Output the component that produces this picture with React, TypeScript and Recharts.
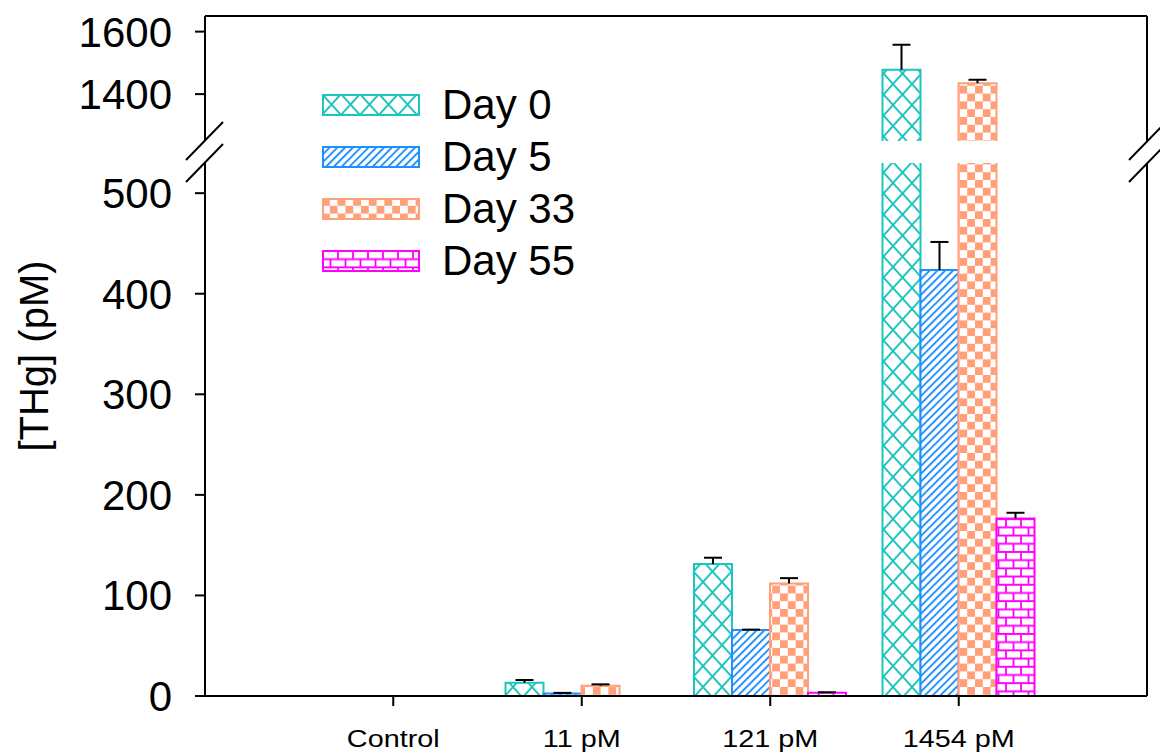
import React from 'react';
import { BarChart, Bar, XAxis, YAxis, ErrorBar, Legend, Label } from 'recharts';

// ---------- data ----------
const categories = ['Control', '11 pM', '121 pM', '1454 pM'];
const seriesNames = ['Day 0', 'Day 5', 'Day 33', 'Day 55'];
const day0 = [null, 13.2, 131.2, 1478];
const day0Err = [null, 2.7, 6.3, 80];
const day5 = [null, 2.5, 65.6, 423.5];
const day5Err = [null, 0.6, 0.4, 28];
const day33 = [null, 10.2, 111.8, 1435];
const day33Err = [null, 1.4, 5.4, 11];
const day55 = [null, null, 3.3, 176.6];
const day55Err = [null, null, 0.4, 5.6];

const lowerTicks = [0, 100, 200, 300, 400, 500];
const upperTicks = [1400, 1600];
const LOWER_DOMAIN: [number, number] = [0, 530];
const UPPER_DOMAIN: [number, number] = [1250, 1650];

// ---------- layout / style ----------
const FONT = '"Liberation Sans", Arial, sans-serif';
const W = 1160;
const H = 755;
const FRAME_LEFT = 205;
const FRAME_RIGHT = 1147;
const FRAME_TOP = 16;
const BREAK_TOP = 141; // bottom of upper panel
const BREAK_BOTTOM = 163; // top of lower panel
const FRAME_BOTTOM = 696;

const series = [
  { key: 'd0', errKey: 'e0', name: seriesNames[0], values: day0, errors: day0Err, color: '#1DC5BF', pattern: 'pat-cross' },
  { key: 'd5', errKey: 'e5', name: seriesNames[1], values: day5, errors: day5Err, color: '#1E8FFF', pattern: 'pat-diag' },
  { key: 'd33', errKey: 'e33', name: seriesNames[2], values: day33, errors: day33Err, color: '#FFA07A', pattern: 'pat-check' },
  { key: 'd55', errKey: 'e55', name: seriesNames[3], values: day55, errors: day55Err, color: '#FF00FF', pattern: 'pat-brick' },
];

function buildRows(part: 'upper' | 'lower') {
  return categories.map((cat, i) => {
    const row: any = { cat };
    series.forEach((s) => {
      const v = s.values[i];
      const e = s.errors[i];
      if (v == null) {
        row[s.key] = null;
        row[s.errKey] = null;
        return;
      }
      if (part === 'upper') {
        const show = v >= UPPER_DOMAIN[0];
        row[s.key] = show ? v : null;
        row[s.errKey] = show && e != null ? [0, e] : null;
      } else {
        row[s.key] = v;
        row[s.errKey] = e != null && v + e <= LOWER_DOMAIN[1] ? [0, e] : null;
      }
    });
    return row;
  });
}

const upperRows = buildRows('upper');
const lowerRows = buildRows('lower');

const axisStyle = { stroke: '#000', strokeWidth: 2 };
const tickStyle = { fontSize: 42, fill: '#000', fontFamily: FONT };

const Patterns = () => (
  <svg width={0} height={0} style={{ position: 'absolute', left: 0, top: 0 }}>
    <defs>
      <pattern id="pat-cross" patternUnits="userSpaceOnUse" width={19} height={21}>
        <rect width={19} height={21} fill="#fff" />
        <path d="M0,0 L19,21 M19,0 L0,21" stroke="#1DC5BF" strokeWidth={1.9} fill="none" />
      </pattern>
      <pattern id="pat-diag" patternUnits="userSpaceOnUse" width={5.5} height={10} patternTransform="rotate(45)">
        <rect width={5.5} height={10} fill="#fff" />
        <line x1={1} y1={0} x2={1} y2={10} stroke="#1E8FFF" strokeWidth={1.9} />
      </pattern>
      <pattern id="pat-check" patternUnits="userSpaceOnUse" width={15.6} height={15.6}>
        <rect width={15.6} height={15.6} fill="#fff" />
        <rect width={7.8} height={7.8} fill="#FFA07A" />
        <rect x={7.8} y={7.8} width={7.8} height={7.8} fill="#FFA07A" />
      </pattern>
      <pattern id="pat-brick" patternUnits="userSpaceOnUse" width={15} height={16.4}>
        <rect width={15} height={16.4} fill="#fff" />
        <path d="M0,1 H15 M0,9.2 H15 M1,1 V9.2 M8.5,9.2 V16.4" stroke="#FF00FF" strokeWidth={1.8} fill="none" />
      </pattern>
    </defs>
  </svg>
);

const renderLegend = () => (
  <div style={{ fontFamily: FONT, fontSize: 42, color: '#000' }}>
    {series.map((s) => (
      <div key={s.key} style={{ display: 'flex', alignItems: 'center', height: 51.7 }}>
        <svg width={98} height={22} style={{ display: 'block' }}>
          <rect x={1} y={1} width={96} height={20} fill={`url(#${s.pattern})`} stroke={s.color} strokeWidth={2} />
        </svg>
        <span style={{ marginLeft: 22, lineHeight: 1, whiteSpace: 'nowrap' }}>{s.name}</span>
      </div>
    ))}
  </div>
);

const XTick = (props: any) => {
  const { x, y, payload } = props;
  return (
    <g transform={`translate(${x},${y})`}>
      <text x={0} y={41} textAnchor="middle" transform="scale(1.2,1)" fontSize={24} fontFamily={FONT} fill="#000">
        {payload.value}
      </text>
    </g>
  );
};

const YLabel = () => (
  <text
    x={0}
    y={0}
    transform={`translate(48, ${(FRAME_TOP + FRAME_BOTTOM) / 2 - BREAK_TOP}) rotate(-90)`}
    textAnchor="middle"
    fontSize={40}
    fontFamily={FONT}
    fill="#000"
  >
    [THg] (pM)
  </text>
);

// bar outline drawn on the left, top and right edges only (the base sits on the axis / the break)
const OpenBar = (props: any) => {
  const { x, y, width, height, color, pattern } = props;
  if (!(width > 0) || !(height > 0)) return null;
  return (
    <g>
      <rect x={x} y={y} width={width} height={height} fill={`url(#${pattern})`} />
      <path
        d={`M${x},${y + height} V${y} H${x + width} V${y + height}`}
        stroke={color}
        strokeWidth={2}
        fill="none"
      />
    </g>
  );
};

const renderBars = () =>
  series.map((s) => (
    <Bar
      key={s.key}
      dataKey={s.key}
      name={s.name}
      fill={`url(#${s.pattern})`}
      stroke={s.color}
      isAnimationActive={false}
      shape={(p: any) => <OpenBar {...p} color={s.color} pattern={s.pattern} />}
    >
      <ErrorBar dataKey={s.errKey} width={9} stroke="#000" strokeWidth={2} direction="y" />
    </Bar>
  ));

const BreakMarks = () => {
  const marks: React.ReactNode[] = [];
  [FRAME_LEFT, FRAME_RIGHT + 1].forEach((x) => {
    [BREAK_TOP, BREAK_BOTTOM].forEach((y) => {
      marks.push(
        <line key={`${x}-${y}`} x1={x - 19} y1={y + 19} x2={x + 18} y2={y - 19} stroke="#000" strokeWidth={2} />
      );
    });
  });
  return (
    <svg width={W} height={H} style={{ position: 'absolute', left: 0, top: 0, pointerEvents: 'none' }}>
      {marks}
    </svg>
  );
};

export default function App() {
  return (
    <div style={{ position: 'absolute', left: 0, top: 0, width: W, height: H, background: '#fff', fontFamily: FONT }}>
      <style>{'.recharts-errorBar line:nth-of-type(3){display:none;}'}</style>
      <Patterns />
      <div style={{ position: 'absolute', left: 0, top: 0 }}>
        <BarChart
          width={W}
          height={BREAK_TOP}
          data={upperRows}
          margin={{ top: FRAME_TOP - 1, right: W - FRAME_RIGHT - 1, bottom: 0, left: 0 }}
          barGap={0}
          barSize={38}
        >
          <XAxis dataKey="cat" hide padding={{ left: 94, right: 94 }} />
          <XAxis
            xAxisId="top"
            dataKey="cat"
            orientation="top"
            height={1}
            tick={false}
            tickLine={false}
            axisLine={axisStyle}
          />
          <YAxis
            width={FRAME_LEFT}
            domain={UPPER_DOMAIN}
            allowDataOverflow
            ticks={upperTicks}
            interval={0}
            tickSize={10}
            tickMargin={23}
            tickLine={axisStyle}
            axisLine={axisStyle}
            tick={tickStyle}
          />
          <YAxis yAxisId="right" orientation="right" width={1} tick={false} tickLine={false} axisLine={axisStyle} />
          {renderBars()}
          <Legend
            content={renderLegend}
            layout="vertical"
            align="center"
            verticalAlign="middle"
            wrapperStyle={{ position: 'absolute', top: 79.6, left: 322, width: 330, height: 210 }}
          />
        </BarChart>
      </div>
      <div style={{ position: 'absolute', left: 0, top: BREAK_TOP }}>
        <BarChart
          width={W}
          height={H - BREAK_TOP}
          data={lowerRows}
          margin={{ top: BREAK_BOTTOM - BREAK_TOP, right: W - FRAME_RIGHT - 1, bottom: 0, left: 0 }}
          barGap={0}
          barSize={38}
        >
          <XAxis
            dataKey="cat"
            height={H - FRAME_BOTTOM}
            padding={{ left: 94, right: 94 }}
            interval={0}
            tickSize={10}
            tickMargin={0}
            tickLine={axisStyle}
            axisLine={axisStyle}
            tick={<XTick />}
          />
          <YAxis
            width={FRAME_LEFT}
            domain={LOWER_DOMAIN}
            allowDataOverflow
            ticks={lowerTicks}
            interval={0}
            tickSize={10}
            tickMargin={23}
            tickLine={axisStyle}
            axisLine={axisStyle}
            tick={tickStyle}
          >
            <Label content={YLabel} />
          </YAxis>
          <YAxis yAxisId="right" orientation="right" width={1} tick={false} tickLine={false} axisLine={axisStyle} />
          {renderBars()}
        </BarChart>
      </div>
      <BreakMarks />
    </div>
  );
}
